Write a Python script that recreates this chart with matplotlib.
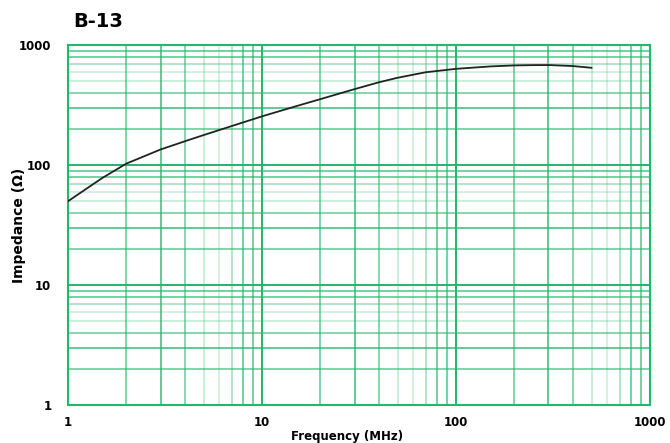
import matplotlib
matplotlib.use("Agg")
import matplotlib.pyplot as plt
from matplotlib.ticker import FixedLocator, NullFormatter

freq = [1, 1.5, 2, 3, 4, 5, 7, 10, 15, 20, 30, 40, 50, 70, 100, 150, 200, 250, 300, 400, 500]
impedance = [50, 78, 103, 135, 158, 178, 212, 255, 310, 355, 430, 490, 535, 595, 635, 665, 678, 682, 683, 670, 648]

x_ticks = [1, 10, 100, 1000]
x_tick_labels = ["1", "10", "100", "1000"]
y_ticks = [1, 10, 100, 1000]
y_tick_labels = ["1", "10", "100", "1000"]

green = "#20b86a"

fig = plt.figure(figsize=(6.7, 4.43), dpi=100)
ax = fig.add_axes([0.1015, 0.0858, 0.8685, 0.8122])
ax.set_xscale("log")
ax.set_yscale("log")
ax.set_xlim(1, 1000)
ax.set_ylim(1, 1000)

# grid, alternating intensities like the original image
minor_alpha = {2: 0.75, 3: 0.9, 4: 0.7, 5: 0.3, 6: 0.25, 7: 0.45, 8: 0.8, 9: 0.8}
for dec in [1, 10, 100]:
    for m in range(2, 10):
        ax.axvline(m * dec, color=green, lw=1.1, alpha=minor_alpha[m], zorder=1)
        ax.axhline(m * dec, color=green, lw=1.1, alpha=minor_alpha[m], zorder=1)
for v in [10, 100]:
    ax.axvline(v, color=green, lw=1.4, alpha=1.0, zorder=1)
    ax.axhline(v, color=green, lw=1.4, alpha=1.0, zorder=1)

ax.plot(freq, impedance, color="#222222", lw=1.3, zorder=3)

for s in ax.spines.values():
    s.set_color(green)
    s.set_linewidth(1.5)

ax.xaxis.set_major_locator(FixedLocator(x_ticks))
ax.yaxis.set_major_locator(FixedLocator(y_ticks))
ax.set_xticklabels(x_tick_labels, fontsize=8.5, fontweight="bold")
ax.set_yticklabels(y_tick_labels, fontsize=8.5, fontweight="bold")
ax.xaxis.set_minor_formatter(NullFormatter())
ax.yaxis.set_minor_formatter(NullFormatter())
ax.tick_params(axis="x", which="both", length=0, pad=8)
ax.tick_params(axis="y", which="both", length=0, pad=12)

ax.set_xlabel("Frequency (MHz)", fontsize=8.5, fontweight="bold")
ax.xaxis.set_label_coords(0.48, -0.07)
ax.set_ylabel("Impedance (Ω)", fontsize=10, fontweight="bold")
ax.yaxis.set_label_coords(-0.072, 0.5)
fig.text(0.109, 0.952, "B-13", fontsize=14, fontweight="bold", va="center")

fig.savefig("out.png", dpi=100)
